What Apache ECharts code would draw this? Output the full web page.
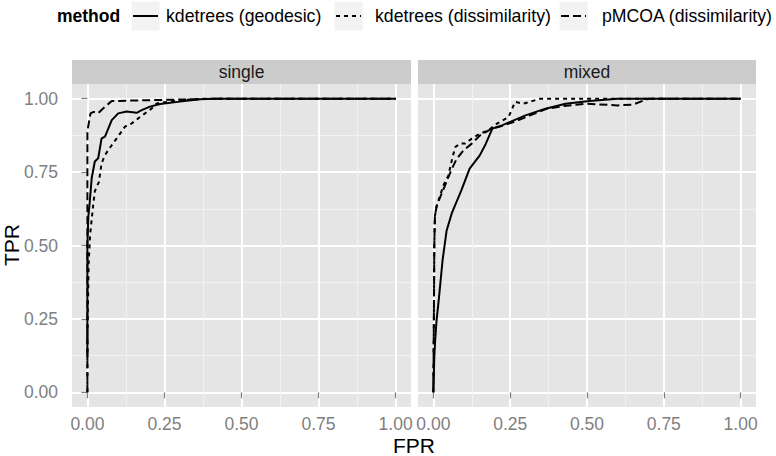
<!DOCTYPE html>
<html><head><meta charset="utf-8">
<script src="https://cdn.jsdelivr.net/npm/echarts@6/dist/echarts.min.js"></script>
<style>html,body{margin:0;padding:0;background:#fff}#c{width:776px;height:456px}</style>
</head><body><div id="c"></div>
<script>
// ---- data ----
const panels = ['single', 'mixed'];
const methods = ['kdetrees (geodesic)', 'kdetrees (dissimilarity)', 'pMCOA (dissimilarity)'];
const legendTitle = 'method';
const xTitle = 'FPR';
const yTitle = 'TPR';
const tickValues = [0, 0.25, 0.5, 0.75, 1];
const tickLabels = ['0.00', '0.25', '0.50', '0.75', '1.00'];
const minorValues = [0.125, 0.375, 0.625, 0.875];

const singleGeodesic = [[0,0.12],[0,0.5],[0.003,0.6],[0.006,0.63],[0.014,0.73],[0.024,0.786],[0.035,0.797],[0.046,0.865],[0.057,0.871],[0.079,0.927],[0.1,0.95],[0.127,0.956],[0.16,0.952],[0.176,0.961],[0.203,0.973],[0.236,0.982],[0.3,0.99],[0.366,0.998],[0.41,1],[1,1]];
const singleDissim = [[0,0],[0,0.2],[0.002,0.31],[0.004,0.44],[0.009,0.54],[0.019,0.64],[0.024,0.684],[0.03,0.70],[0.037,0.715],[0.046,0.78],[0.057,0.808],[0.073,0.833],[0.095,0.865],[0.122,0.905],[0.144,0.916],[0.165,0.933],[0.187,0.95],[0.209,0.967],[0.225,0.984],[0.3,0.995],[0.38,1],[1,1]];
const singlePMCOA = [[0,0],[0,0.5],[0,0.89],[0.01,0.95],[0.02,0.955],[0.035,0.951],[0.05,0.966],[0.079,0.992],[0.2,0.995],[0.3,0.997],[0.43,1],[1,1]];

const mixedGeodesic = [[0,0],[0.003,0.12],[0.006,0.18],[0.01,0.24],[0.018,0.32],[0.03,0.45],[0.043,0.55],[0.06,0.61],[0.076,0.65],[0.091,0.688],[0.118,0.762],[0.151,0.807],[0.17,0.845],[0.192,0.898],[0.223,0.909],[0.25,0.921],[0.3,0.943],[0.365,0.966],[0.43,0.983],[0.508,0.992],[0.6,1],[1,1]];
const mixedDissim = [[0,0],[0.002,0.3],[0.003,0.5],[0.005,0.6],[0.011,0.636],[0.033,0.705],[0.049,0.739],[0.06,0.79],[0.071,0.835],[0.087,0.847],[0.103,0.847],[0.125,0.864],[0.152,0.881],[0.179,0.892],[0.207,0.915],[0.245,0.938],[0.266,0.989],[0.293,0.983],[0.348,1],[1,1]];
const mixedPMCOA = [[0,0],[0.002,0.3],[0.003,0.5],[0.005,0.6],[0.011,0.636],[0.038,0.705],[0.06,0.761],[0.076,0.795],[0.098,0.824],[0.125,0.847],[0.152,0.875],[0.19,0.898],[0.217,0.905],[0.26,0.92],[0.315,0.943],[0.37,0.966],[0.424,0.975],[0.5,0.983],[0.6,0.977],[0.65,0.98],[0.7,1],[1,1]];

const panelData = [[singleGeodesic, singleDissim, singlePMCOA], [mixedGeodesic, mixedDissim, mixedPMCOA]];

// ---- styling / layout ----
const FONT = '"Liberation Sans", Arial, Helvetica, sans-serif';
const lineTypes = ['solid', [4, 4], [8, 4]];
const LW = 2;
const gridsPos = [{left: 72, top: 84, width: 339, height: 323}, {left: 418, top: 84, width: 338, height: 323}];
const STRIP_TOP = 60;

const grids = gridsPos.map(g => Object.assign({show: true, backgroundColor: '#e5e5e5', borderWidth: 0}, g));

function minorAxis(i, isX) {
  return {type: 'value', gridIndex: i, min: -0.05, max: 1.05, position: isX ? 'top' : 'right',
    axisLine: {show: false}, axisLabel: {show: false},
    axisTick: {show: false, customValues: minorValues},
    splitLine: {show: true, lineStyle: {color: '#f2f2f2', width: 1}}};
}
function majorAxis(i, isX) {
  const showLab = isX || i === 0;
  return {type: 'value', gridIndex: i, min: -0.05, max: 1.05, position: isX ? 'bottom' : 'left',
    axisLine: {show: false},
    axisTick: {show: showLab, customValues: tickValues, length: 6, lineStyle: {color: '#7f7f7f', width: 1.2}},
    axisLabel: {show: showLab, customValues: tickValues, formatter: v => tickLabels[tickValues.indexOf(Math.round(v * 100) / 100)],
      color: '#7f7f7f', fontSize: 17.5, fontFamily: FONT, margin: isX ? 8 : 14},
    splitLine: {show: true, lineStyle: {color: '#ffffff', width: 2}}};
}
const xAxes = [], yAxes = [];
for (let i = 0; i < 2; i++) {
  xAxes.push(minorAxis(i, true)); xAxes.push(majorAxis(i, true));
  yAxes.push(minorAxis(i, false)); yAxes.push(majorAxis(i, false));
}

const series = [];
panelData.forEach((arrs, p) => {
  arrs.forEach((d, m) => {
    series.push({type: 'line', name: methods[m], xAxisIndex: 2 * p + 1, yAxisIndex: 2 * p + 1,
      data: d, showSymbol: false, symbol: 'none', animation: false, silent: true,
      lineStyle: {color: '#000', width: LW, type: lineTypes[m]}});
  });
});

const graphics = [];
// strips
gridsPos.forEach((g, i) => {
  graphics.push({type: 'rect', shape: {x: g.left, y: STRIP_TOP, width: g.width, height: g.top - STRIP_TOP}, style: {fill: '#cccccc'}});
  graphics.push({type: 'text', x: g.left + g.width / 2, y: (STRIP_TOP + g.top) / 2,
    style: {text: panels[i], fill: '#1a1a1a', font: '17.5px ' + FONT, align: 'center', verticalAlign: 'middle'}});
});
// axis titles
graphics.push({type: 'text', x: 414, y: 445, style: {text: xTitle, fill: '#000', font: '21px ' + FONT, align: 'center', verticalAlign: 'middle'}});
graphics.push({type: 'text', x: 11, y: 245, rotation: Math.PI / 2, style: {text: yTitle, fill: '#000', font: '21px ' + FONT, align: 'center', verticalAlign: 'middle'}});
// legend
const LEG_Y = 16;
graphics.push({type: 'text', x: 57, y: LEG_Y, style: {text: legendTitle, fill: '#000', font: 'bold 17.5px ' + FONT, align: 'left', verticalAlign: 'middle'}});
const keyX = [131, 334, 559];
const textX = [166, 375, 602];
methods.forEach((m, k) => {
  graphics.push({type: 'rect', shape: {x: keyX[k], y: 1, width: 29, height: 30}, style: {fill: '#f2f2f2', stroke: '#ffffff', lineWidth: 1}});
  graphics.push({type: 'line', shape: {x1: keyX[k] + 2, y1: LEG_Y, x2: keyX[k] + 27, y2: LEG_Y},
    style: {stroke: '#000', lineWidth: LW, lineDash: lineTypes[k] === 'solid' ? null : lineTypes[k]}});
  graphics.push({type: 'text', x: textX[k], y: LEG_Y, style: {text: m, fill: '#000', font: '17.7px ' + FONT, align: 'left', verticalAlign: 'middle'}});
});

const chart = echarts.init(document.getElementById('c'), null, {renderer: 'svg'});
chart.setOption({
  animation: false,
  backgroundColor: '#ffffff',
  grid: grids,
  xAxis: xAxes,
  yAxis: yAxes,
  series: series,
  graphic: graphics
});
</script>
</body></html>
